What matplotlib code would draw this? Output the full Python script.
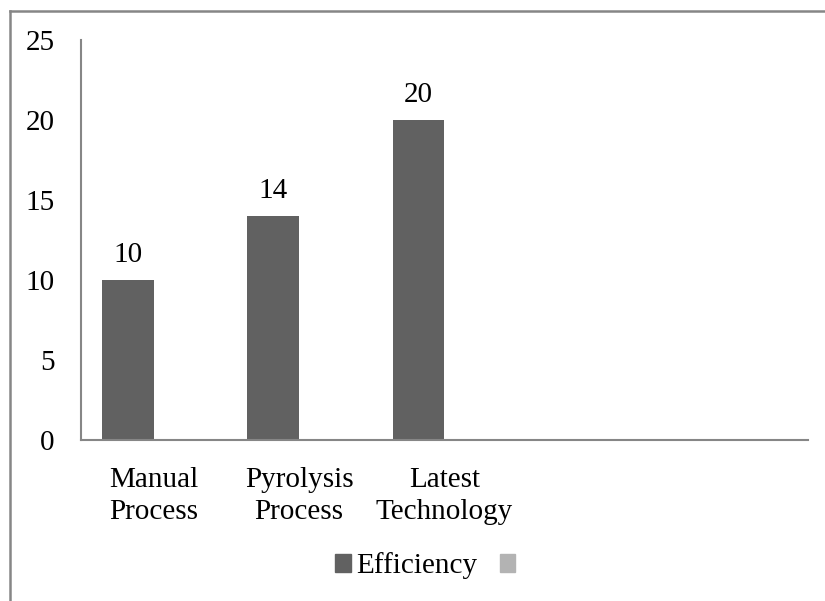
import matplotlib.pyplot as plt
from matplotlib.patches import Patch
from matplotlib.lines import Line2D

# Chart data
categories = ["Manual\nProcess", "Pyrolysis\nProcess", "Latest\nTechnology"]
efficiency = [10, 14, 20]
second_series = []  # unnamed series, no values
n_slots = 5  # category axis keeps two empty slots on the right
y_ticks = [0, 5, 10, 15, 20, 25]

plt.rcParams['font.family'] = ['Liberation Serif', 'DejaVu Serif']

bar_color = '#616161'
empty_color = '#b3b3b3'
axis_color = '#868686'
fs = 21

fig = plt.figure(figsize=(8.25, 6.01), dpi=100)
ax = fig.add_axes([81 / 825, 161 / 601, 727 / 825, 400 / 601])

# clustered layout: series 1 sits left of the slot centre, series 2 right
w = 0.357
x = list(range(len(categories)))
bars = ax.bar([i - w / 2 for i in x], efficiency, width=w, color=bar_color, zorder=2)
ax.bar([i + w / 2 for i in range(len(second_series))], second_series,
       width=w, color=empty_color, zorder=2)
for rect, v in zip(bars, efficiency):
    ax.text(rect.get_x() + rect.get_width() / 2, v + 0.75, str(v),
            ha='center', va='bottom', fontsize=fs)

ax.set_xlim(-0.5, n_slots - 0.5)
ax.set_ylim(0, 25)
ax.set_yticks(y_ticks)
ax.set_xticks(x)
ax.set_xticklabels(categories, fontsize=fs, linespacing=1.3)
ax.tick_params(axis='y', length=0, pad=19, labelsize=fs)
ax.tick_params(axis='x', length=0, pad=19.5)

for side in ['top', 'right']:
    ax.spines[side].set_visible(False)
for side in ['left', 'bottom']:
    ax.spines[side].set_color(axis_color)
    ax.spines[side].set_linewidth(1.5)

# Legend: named series plus the unnamed one
handles = [Patch(color=bar_color), Patch(color=empty_color)]
fig.legend(handles, ['Efficiency', ''], ncol=2, frameon=False,
           loc='center', bbox_to_anchor=(428 / 825, 1 - 566 / 601),
           fontsize=fs, handlelength=0.54, handleheight=0.54,
           handletextpad=0.2, columnspacing=0.75)

# Chart area border (left and top edges)
fig.add_artist(Line2D([10 / 825, 10 / 825], [0, 1 - 11 / 601],
                      color=axis_color, linewidth=1.8, transform=fig.transFigure))
fig.add_artist(Line2D([10 / 825, 1], [1 - 11 / 601, 1 - 11 / 601],
                      color=axis_color, linewidth=1.8, transform=fig.transFigure))

fig.savefig('out.png', dpi=100)
